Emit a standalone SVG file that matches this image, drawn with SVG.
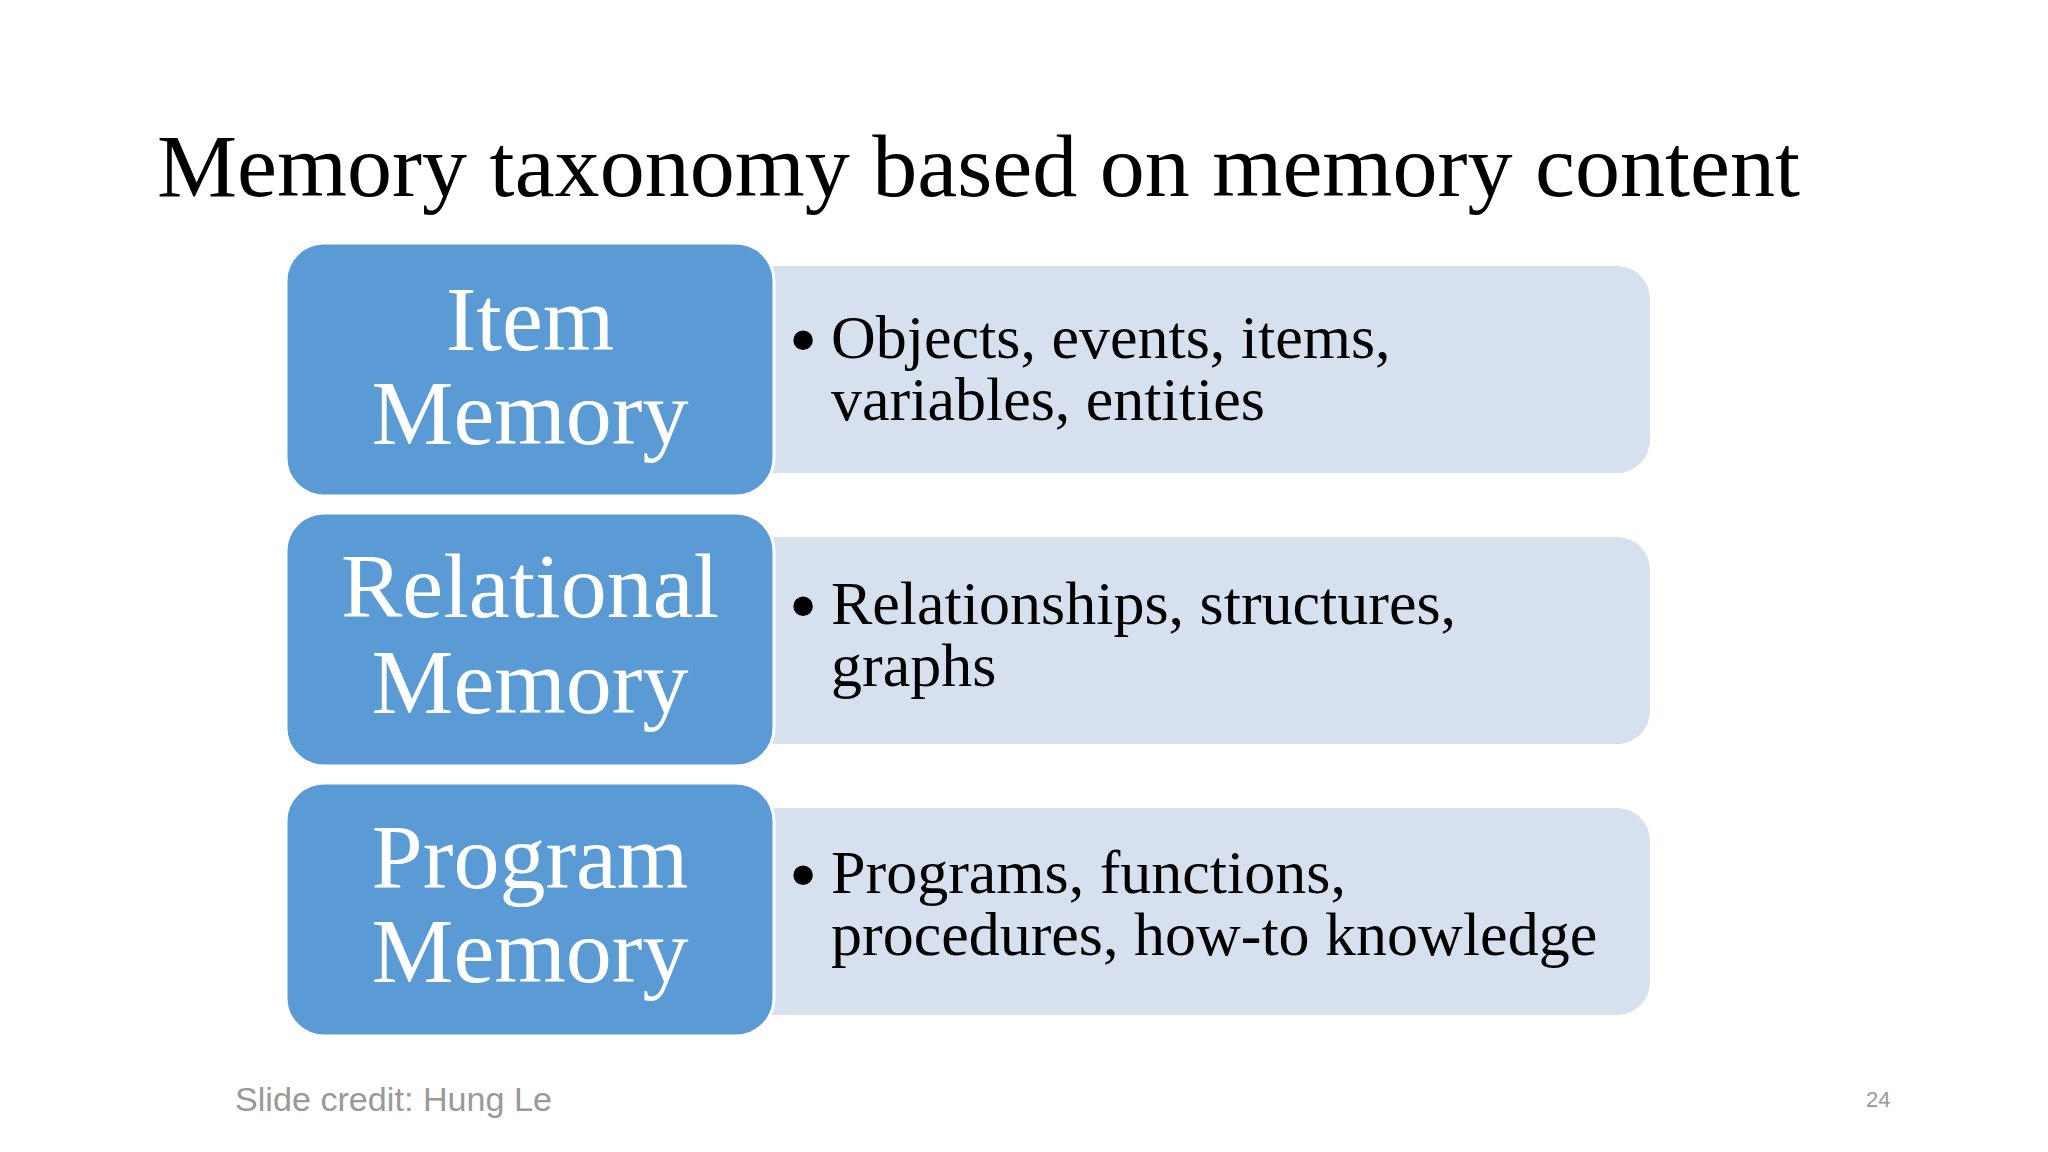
<svg xmlns="http://www.w3.org/2000/svg" width="2048" height="1152" viewBox="0 0 2048 1152">
<style>
.title{font-family:"Liberation Serif","Times New Roman",serif;font-size:89px;fill:#000}
.head{font-family:"Liberation Serif","Times New Roman",serif;font-size:92px;fill:#fff;text-anchor:middle}
.body{font-family:"Liberation Serif","Times New Roman",serif;font-size:62px;fill:#000}
.bullet{font-family:"Liberation Serif","Times New Roman",serif;font-size:72px;font-weight:bold;fill:#000;text-anchor:middle}
.blue{fill:#5B9BD5;stroke:#fff;stroke-width:3}
.light{fill:#D6E0EF}
.foot{font-family:"Liberation Sans",Arial,sans-serif;fill:#999}
</style>
<rect width="2048" height="1152" fill="#fff"/>
<text class="title" x="157" y="196" textLength="1643" lengthAdjust="spacingAndGlyphs">Memory taxonomy based on memory content</text>

<g id="item">
<path class="light" d="M740 266 H1617 A33 33 0 0 1 1650 299 V440 A33 33 0 0 1 1617 473 H740 Z"/>
<rect class="blue" x="286" y="243" width="488" height="253" rx="38"/>
<text class="head" x="530" y="350">Item</text>
<text class="head" x="530" y="444">Memory</text>
<text class="bullet" x="803" y="364">•</text>
<text class="body" x="831" y="358">Objects, events, items,</text>
<text class="body" x="831" y="420">variables, entities</text>
</g>

<g id="relational">
<path class="light" d="M740 537 H1617 A33 33 0 0 1 1650 570 V711 A33 33 0 0 1 1617 744 H740 Z"/>
<rect class="blue" x="286" y="513" width="488" height="253" rx="38"/>
<text class="head" x="530" y="617">Relational</text>
<text class="head" x="530" y="713">Memory</text>
<text class="bullet" x="803" y="630">•</text>
<text class="body" x="831" y="624">Relationships, structures,</text>
<text class="body" x="831" y="686">graphs</text>
</g>

<g id="program">
<path class="light" d="M740 808 H1617 A33 33 0 0 1 1650 841 V982 A33 33 0 0 1 1617 1015 H740 Z"/>
<rect class="blue" x="286" y="783" width="488" height="253" rx="38"/>
<text class="head" x="530" y="888">Program</text>
<text class="head" x="530" y="982">Memory</text>
<text class="bullet" x="803" y="899">•</text>
<text class="body" x="831" y="893">Programs, functions,</text>
<text class="body" x="831" y="955">procedures, how-to knowledge</text>
</g>

<g id="connectors"></g>

<text class="foot" x="235" y="1111" font-size="34" textLength="317" lengthAdjust="spacingAndGlyphs">Slide credit: Hung Le</text>
<text class="foot" x="1866" y="1107" font-size="22" fill="#888">24</text>
</svg>
